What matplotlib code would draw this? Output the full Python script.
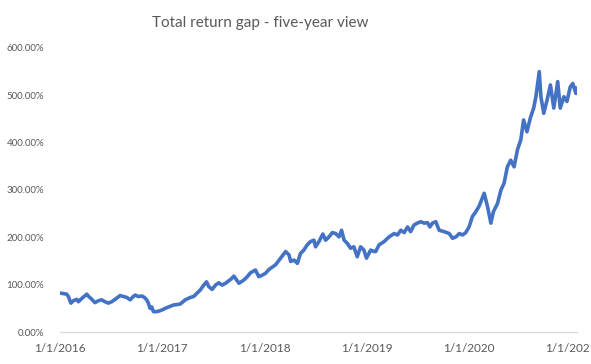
"""Total return gap - five-year view (Excel-style line chart)."""
import matplotlib

matplotlib.use("Agg")
import matplotlib.dates as mdates
import matplotlib.pyplot as plt
import pandas as pd
from matplotlib.ticker import FuncFormatter, MultipleLocator

TITLE = "Total return gap - five-year view"

DATES = [
    "2016-01-04", "2016-01-25", "2016-01-31", "2016-02-09", "2016-02-18", "2016-03-01",
    "2016-03-07", "2016-03-19", "2016-04-06", "2016-04-11", "2016-04-24", "2016-05-05",
    "2016-05-17", "2016-05-29", "2016-06-10", "2016-06-22", "2016-07-04", "2016-07-16",
    "2016-08-03", "2016-08-15", "2016-08-27", "2016-09-08", "2016-09-19", "2016-09-26",
    "2016-10-07", "2016-10-20", "2016-10-29", "2016-11-06", "2016-11-12", "2016-11-18",
    "2016-11-24", "2016-11-30", "2016-12-12", "2016-12-24", "2017-01-05", "2017-01-11",
    "2017-02-10", "2017-03-06", "2017-03-24", "2017-04-11", "2017-04-23", "2017-05-05",
    "2017-05-17", "2017-05-29", "2017-06-08", "2017-06-16", "2017-06-28", "2017-07-10",
    "2017-07-22", "2017-08-03", "2017-08-15", "2017-09-02", "2017-09-14", "2017-10-02",
    "2017-10-20", "2017-11-01", "2017-11-12", "2017-11-30", "2017-12-12", "2017-12-24",
    "2018-01-05", "2018-01-17", "2018-02-10", "2018-02-28", "2018-03-18", "2018-03-30",
    "2018-04-05", "2018-04-17", "2018-04-29", "2018-05-10", "2018-05-22", "2018-06-03",
    "2018-06-15", "2018-06-27", "2018-07-03", "2018-07-15", "2018-07-29", "2018-08-08",
    "2018-08-20", "2018-09-01", "2018-09-13", "2018-09-25", "2018-10-04", "2018-10-13",
    "2018-10-25", "2018-11-05", "2018-11-17", "2018-11-29", "2018-12-11", "2018-12-23",
    "2019-01-01", "2019-01-16", "2019-01-28", "2019-02-03", "2019-02-15", "2019-03-05",
    "2019-03-23", "2019-04-10", "2019-04-22", "2019-05-04", "2019-05-16", "2019-05-28",
    "2019-06-08", "2019-06-20", "2019-07-02", "2019-07-14", "2019-07-26", "2019-08-07",
    "2019-08-16", "2019-08-25", "2019-09-06", "2019-09-18", "2019-10-06", "2019-10-24",
    "2019-11-05", "2019-11-17", "2019-11-29", "2019-12-11", "2019-12-22", "2020-01-03",
    "2020-01-15", "2020-01-27", "2020-02-08", "2020-02-26", "2020-03-09", "2020-03-21",
    "2020-03-30", "2020-04-14", "2020-04-26", "2020-05-07", "2020-05-19", "2020-05-31",
    "2020-06-12", "2020-06-24", "2020-07-06", "2020-07-16", "2020-07-28", "2020-08-09",
    "2020-08-21", "2020-08-29", "2020-09-10", "2020-09-16", "2020-09-26", "2020-10-08",
    "2020-10-20", "2020-11-01", "2020-11-15", "2020-11-24", "2020-12-07", "2020-12-18",
    "2020-12-30", "2021-01-08", "2021-01-19", "2021-01-23",
]

# total return gap, in percent
GAP_PCT = [
    82, 80, 75, 61, 66, 69,
    64, 71, 80, 76, 69, 62,
    66, 68, 64, 61, 64, 69,
    77, 75, 73, 68, 75, 78,
    75, 76, 73, 68, 61, 50,
    53, 43, 43, 45, 48, 50,
    57, 59, 68, 73, 75, 82,
    89, 99, 106, 96, 90, 99,
    104, 99, 103, 111, 118, 103,
    110, 117, 125, 131, 117, 120,
    124, 132, 142, 156, 170, 163,
    149, 152, 145, 166, 173, 184,
    191, 194, 180, 191, 207, 194,
    201, 210, 208, 201, 215, 194,
    187, 177, 180, 159, 180, 173,
    156, 173, 170, 170, 184, 191,
    201, 208, 205, 215, 210, 222,
    212, 226, 230, 233, 230, 231,
    222, 230, 233, 215, 212, 208,
    198, 201, 208, 205, 210, 222,
    244, 254, 266, 293, 265, 230,
    254, 272, 300, 314, 349, 363,
    349, 385, 406, 448, 423, 452,
    473, 497, 550, 497, 462, 490,
    522, 473, 529, 473, 497, 487,
    518, 525, 504, 515,
]

YEAR_TICKS = ["2016-01-01", "2017-01-01", "2018-01-01", "2019-01-01", "2020-01-01", "2021-01-01"]

LINE_COLOR = "#4472C4"
TEXT_COLOR = "#595959"
AXIS_COLOR = "#D9D9D9"

plt.rcParams["font.family"] = ["Lato", "DejaVu Sans"]

dates = pd.to_datetime(DATES)
ticks = pd.to_datetime(YEAR_TICKS)

fig = plt.figure(figsize=(5.91, 3.64), dpi=100)
ax = fig.add_axes([60 / 591, 1 - 332 / 364, 517 / 591, 284 / 364])

ax.plot(dates, GAP_PCT, color=LINE_COLOR, linewidth=2.6, solid_joinstyle="round")

ax.set_xlim(pd.Timestamp("2016-01-01"), dates[-1])
ax.set_ylim(0, 600)
ax.yaxis.set_major_locator(MultipleLocator(100))
ax.yaxis.set_major_formatter(FuncFormatter(lambda v, _: f"{v:.2f}%"))
ax.set_xticks(ticks)
ax.xaxis.set_major_formatter(
    FuncFormatter(lambda v, _: (lambda d: f"{d.month}/{d.day}/{d.year}")(mdates.num2date(v)))
)

for side in ["top", "right", "left"]:
    ax.spines[side].set_visible(False)
ax.spines["bottom"].set_color(AXIS_COLOR)
ax.spines["bottom"].set_linewidth(0.9)
ax.tick_params(axis="both", length=0, colors=TEXT_COLOR)
ax.tick_params(axis="y", labelsize=7, pad=11.5)
ax.tick_params(axis="x", labelsize=8.5, pad=8)

fig.text(260 / 591, 1 - 23 / 364, TITLE, ha="center", va="center", fontsize=11, color=TEXT_COLOR)

fig.savefig("out.png", dpi=100)
